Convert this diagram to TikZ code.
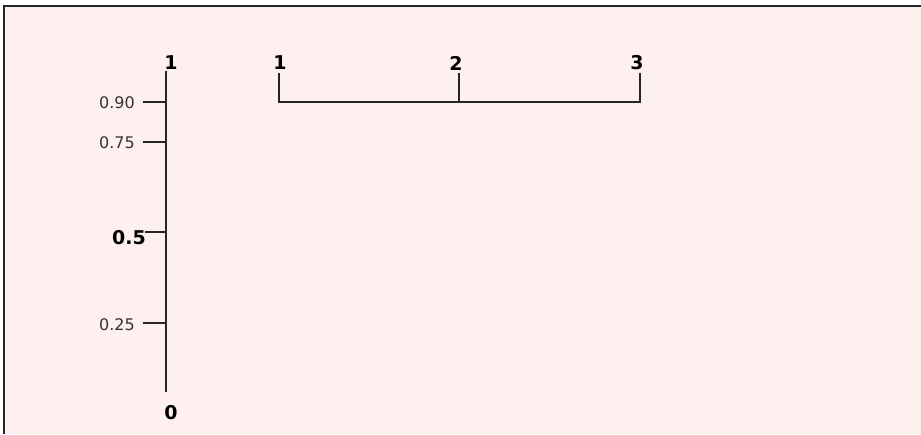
\documentclass[tikz,border=0pt]{standalone}
\usepackage{fontspec}
\setmainfont{DejaVu Sans}
\begin{document}
\begin{tikzpicture}[x=1pt,y=-1pt,
  axisline/.style={line width=1.3pt,black!85},
  small/.style={font=\fontsize{16}{18}\selectfont,text=black!80,inner sep=0pt},
  big/.style={font=\fontsize{19}{21}\selectfont\bfseries,inner sep=0pt},
  frame/.style={line width=1.8pt,black!85}]
\useasboundingbox (0,0) rectangle (921,434);
\fill[white] (0,0) rectangle (921,434);
\fill[red!6!white] (4,6) rectangle (921,434);
\draw[frame] (4,434) -- (4,6) -- (921,6);
% vertical axis
\coordinate (atop) at (166,71);
\coordinate (abot) at (166,392);
\draw[axisline] (atop) -- (abot);
\node[big] (l1) at (171,63) {1};
\node[big] (l0) at (171,413) {0};
% ticks
\coordinate (t90) at (166,102);
\coordinate (t75) at (166,142);
\coordinate (t50) at (166,232);
\coordinate (t25) at (166,323);
\coordinate (t90s) at (143,102);
\coordinate (t75s) at (143,142);
\coordinate (t50s) at (145,232);
\coordinate (t25s) at (143,323);
\draw[axisline] (t90s) -- (t90);
\draw[axisline] (t75s) -- (t75);
\draw[axisline] (t50s) -- (t50);
\draw[axisline] (t25s) -- (t25);
\node[small,anchor=east] (n90) at (135,103) {0.90};
\node[small,anchor=east] (n75) at (135,143) {0.75};
\node[big] (n50) at (129,238) {0.5};
\node[small,anchor=east] (n25) at (135,325) {0.25};
% bracket
\coordinate (b1) at (279,73);
\coordinate (b2) at (459,73);
\coordinate (b3) at (640,73);
\coordinate (c1) at (279,102);
\coordinate (c2) at (459,102);
\coordinate (c3) at (640,102);
\draw[axisline] (b1) -- (c1) -- (c3) -- (b3);
\draw[axisline] (b2) -- (c2);
\node[big] (m1) at (280,63) {1};
\node[big] (m2) at (456,63) {2};
\node[big] (m3) at (637,63) {3};
\end{tikzpicture}
\end{document}
